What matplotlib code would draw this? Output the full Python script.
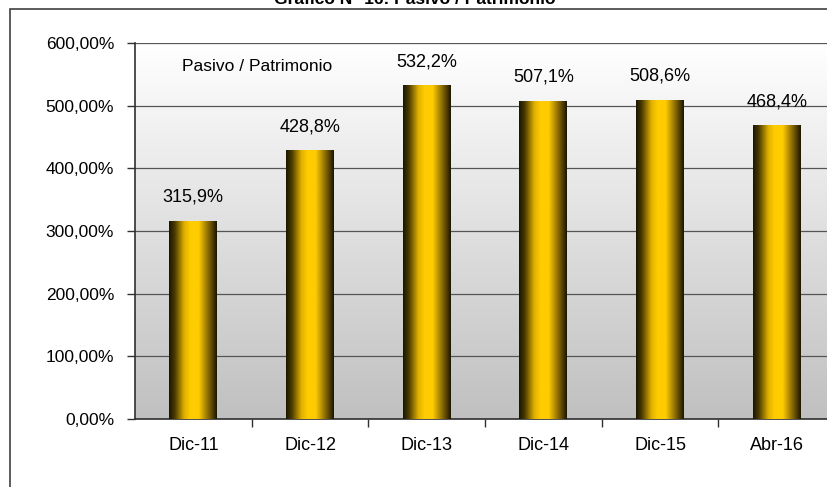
import numpy as np
import matplotlib.pyplot as plt
from matplotlib.colors import LinearSegmentedColormap
from matplotlib.patches import Rectangle
from matplotlib.ticker import FuncFormatter, MultipleLocator

plt.rcParams['font.family'] = ['Liberation Sans', 'DejaVu Sans']

periods = ['Dic-11', 'Dic-12', 'Dic-13', 'Dic-14', 'Dic-15', 'Abr-16']
ratio = [315.9, 428.8, 532.2, 507.1, 508.6, 468.4]

fig = plt.figure(figsize=(8.27, 4.87), dpi=100)
W, H = 827, 487

# outer chart frame (runs off the right and bottom edges)
fig.patches.append(Rectangle((10 / W, -0.1), 1.2, (H - 9) / H + 0.1,
                             transform=fig.transFigure, fill=False,
                             edgecolor='#404040', linewidth=1.2))
fig.text(415 / W, (H - 4) / H, 'Gráfico N° 16: Pasivo / Patrimonio',
         ha='center', va='baseline', fontsize=12.5, fontweight='bold')

ax = fig.add_axes([135 / W, 68 / H, 700 / W, 376 / H])
x = np.arange(len(periods))
ax.set_xlim(-0.5, len(periods) - 0.5)
ax.set_ylim(0, 600)

# plot area: white at the top fading to grey
bg = LinearSegmentedColormap.from_list('bg', ['#c0c0c0', '#ffffff'])
ax.imshow(np.linspace(0, 1, 256).reshape(-1, 1), cmap=bg, aspect='auto',
          extent=(-0.5, len(periods) - 0.5, 0, 600), origin='lower', zorder=0)

ax.yaxis.set_major_locator(MultipleLocator(100))
ax.grid(axis='y', color='#555555', linewidth=0.9, zorder=1)
ax.set_axisbelow(True)

bars = ax.bar(x, ratio, width=0.41, color='none', edgecolor='none', zorder=2)

gold = LinearSegmentedColormap.from_list(
    'gold', [(0.0, '#1a1500'), (0.12, '#4a3a00'), (0.32, '#e0b000'),
             (0.45, '#ffcc00'), (0.62, '#ffcc00'), (0.82, '#8a6a00'),
             (1.0, '#1a1500')])
grad = np.linspace(0, 1, 256).reshape(1, -1)
for b, v in zip(bars, ratio):
    x0 = b.get_x()
    ax.imshow(grad, cmap=gold, aspect='auto', zorder=3,
              extent=(x0, x0 + b.get_width(), 0, b.get_height()))
    ax.annotate(f'{v:.1f}%'.replace('.', ','), (b.get_x() + b.get_width() / 2, v),
                xytext=(0, 11), textcoords='offset points',
                ha='center', va='bottom', fontsize=13, zorder=4)

ax.text(0.55, 562, 'Pasivo / Patrimonio', ha='center', va='center',
        fontsize=12.5)

ax.yaxis.set_major_formatter(FuncFormatter(lambda v, p: f'{v:.2f}%'.replace('.', ',')))
ax.tick_params(axis='y', direction='out', length=6, width=1, color='#303030',
               pad=9, labelsize=12.5)
ax.set_xticks(x)
ax.set_xticklabels(periods)
ax.set_xticks(np.arange(len(periods)) + 0.5, minor=True)
ax.tick_params(axis='x', which='major', length=0, pad=13, labelsize=13)
ax.tick_params(axis='x', which='minor', direction='out', length=6, width=1,
               color='#303030')

for side in ['top', 'right']:
    ax.spines[side].set_visible(False)
for side in ['left', 'bottom']:
    ax.spines[side].set_color('#303030')
    ax.spines[side].set_linewidth(1.2)

fig.savefig('out.png', dpi=100)
